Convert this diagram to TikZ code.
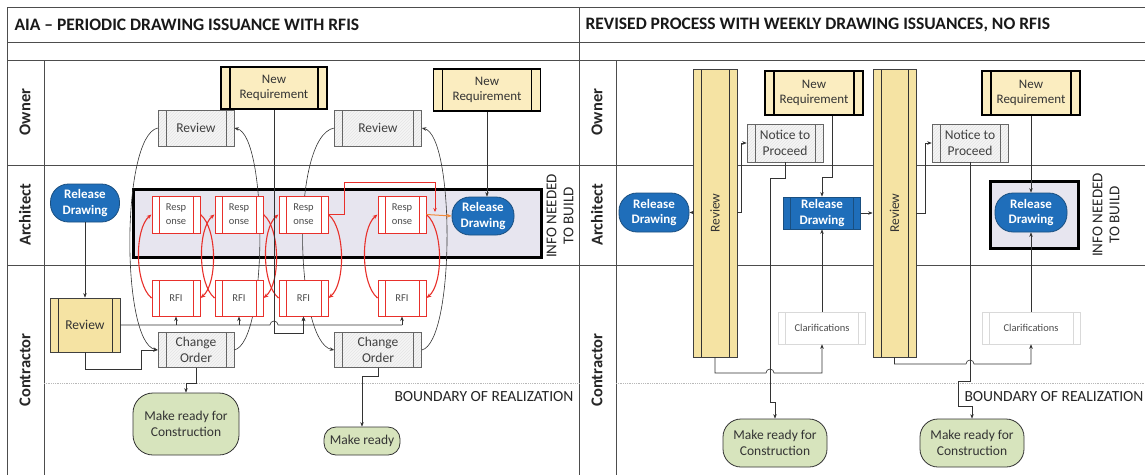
\documentclass[tikz,border=0pt]{standalone}
\usepackage{fontspec}
\setmainfont{Carlito}
\usetikzlibrary{arrows.meta,patterns,calc}
\definecolor{rdblue}{HTML}{1F6EBA}
\definecolor{rdborder}{HTML}{1A4F80}
\definecolor{nrfill}{HTML}{FBEDC0}
\definecolor{barfill}{HTML}{F5E3A3}
\definecolor{hatchfill}{HTML}{F5F5F5}
\definecolor{boxfill}{HTML}{E7E5EF}
\definecolor{greenfill}{HTML}{D7E4BD}
\definecolor{rfired}{HTML}{E8302B}
\definecolor{orangeline}{HTML}{F28A3A}
\definecolor{laneline}{HTML}{4D4D4D}
\newcommand{\myfs}[2]{\fontsize{#1}{#2}\selectfont}
\tikzset{
  inl/.style n args={3}{path picture={
     \draw[#2,line width=#3] ([xshift=#1]path picture bounding box.north west) -- ([xshift=#1]path picture bounding box.south west);
     \draw[#2,line width=#3] ([xshift=-#1]path picture bounding box.north east) -- ([xshift=-#1]path picture bounding box.south east);}},
  lane/.style={draw=laneline, line width=0.9pt},
  lanelabel/.style={rotate=90, font=\bfseries\myfs{16.5}{19}, text=black!85},
  nreq/.style={rectangle, draw=black, line width=1.6pt, fill=nrfill, inl={9pt}{black}{1.2pt}, font=\myfs{13}{15}, align=center, inner sep=0pt, text=black!80},
  hbox/.style={rectangle, draw=gray!80!black, line width=0.6pt, preaction={fill=hatchfill}, pattern=north east lines, pattern color=gray!20, inl={8pt}{gray!80!black}{0.5pt}, font=\myfs{13.5}{15.5}, align=center, inner sep=0pt, text=black!75},
  rbox/.style={rectangle, draw=rfired, line width=1pt, fill=white, inl={7pt}{rfired}{0.9pt}, font=\myfs{10.5}{14}, align=center, text=black!70, inner sep=0pt},
  ybox/.style={rectangle, draw=gray!50!black, line width=0.8pt, fill=barfill, inl={8pt}{gray!40!black}{0.8pt}, font=\myfs{13.5}{15}, text=black!80, inner sep=0pt},
  oval/.style={rectangle, rounded corners=18pt, draw=rdborder, line width=0.8pt, fill=rdblue, text=white, font=\bfseries\myfs{13}{15.5}, align=center, inner sep=0pt},
  blrect/.style={rectangle, draw=rdborder, line width=0.8pt, fill=rdblue, inl={7pt}{rdborder}{0.8pt}, text=white, font=\bfseries\myfs{13}{15.5}, align=center, inner sep=0pt},
  grn/.style={rectangle, draw=gray!40!black, line width=0.8pt, fill=greenfill, font=\myfs{13.5}{16}, align=center, text=black!80, inner sep=0pt},
  clar/.style={rectangle, draw=gray!30, line width=0.5pt, fill=white, inl={7pt}{gray!30}{0.5pt}, font=\myfs{10.5}{12}, text=black!70, inner sep=0pt},
  thickbox/.style={draw=black, line width=3pt, fill=boxfill},
  conn/.style={draw=black!80, line width=0.6pt, -{Stealth[length=4.5pt,width=3.5pt]}},
  plain/.style={draw=black!80, line width=0.6pt},
  redc/.style={draw=rfired, line width=1.1pt, -{Stealth[length=5pt,width=4pt]}},
  infotext/.style={rotate=90, font=\myfs{15}{17}, align=center, text=black!85},
  bndtext/.style={anchor=west, font=\myfs{15.5}{17}, text=black!85},
  titletext/.style={anchor=west, font=\bfseries\myfs{17.5}{20}, text=black!90},
}
\begin{document}
\begin{tikzpicture}[x=1pt,y=-1pt]
\useasboundingbox (0,0) rectangle (1145,475);
\fill[white] (0,0) rectangle (1145,475);

% ---------- frame and lanes ----------
\draw[lane] (7,7) -- (1145,7);
\draw[lane] (7,42) -- (1145,42);
\draw[lane] (7,60) -- (1145,60);
\draw[lane] (7,165) -- (1145,165);
\draw[lane] (7,265) -- (1145,265);
\draw[lane] (7,7) -- (7,475);
\draw[lane] (579,7) -- (579,475);
\draw[lane] (44,60) -- (44,475);
\draw[lane] (616,60) -- (616,475);
\draw[gray!55, densely dotted, line width=0.8pt] (44,383) -- (579,383);
\draw[gray!55, densely dotted, line width=0.8pt] (616,383) -- (1145,383);

\node[titletext] (t1) at (11,25) {AIA – PERIODIC DRAWING ISSUANCE WITH RFIS};
\node[titletext] (t2) at (582,25) {REVISED PROCESS WITH WEEKLY DRAWING ISSUANCES, NO RFIS};

\node[lanelabel] (lo1) at (25,112) {Owner};
\node[lanelabel] (la1) at (25,215) {Architect};
\node[lanelabel] (lc1) at (25,370) {Contractor};
\node[lanelabel] (lo2) at (597,112) {Owner};
\node[lanelabel] (la2) at (597,215) {Architect};
\node[lanelabel] (lc2) at (597,370) {Contractor};

% ---------- LEFT PANEL ----------
\filldraw[thickbox] (133,189) rectangle (541,257);

\path (274,88) node[nreq, minimum width=106pt, minimum height=42pt] (NR1) {New\\Requirement};
\path (487,90) node[nreq, minimum width=107pt, minimum height=42pt] (NR2) {New\\Requirement};
\path (196,128) node[hbox, minimum width=76pt, minimum height=36pt] (RV1) {Review};
\path (378,128) node[hbox, minimum width=87pt, minimum height=36pt] (RV2) {Review};
\path (196,350) node[hbox, minimum width=76pt, minimum height=35pt] (CO1) {Change\\Order};
\path (378,350) node[hbox, minimum width=87pt, minimum height=35pt] (CO2) {Change\\Order};

% black arcs (behind boxes)
\draw[conn] (RV1.west) .. controls (121,136) and (121,342) .. (CO1.west);
\draw[conn] (CO1.east) .. controls (268,342) and (268,136) .. (RV1.east);
\draw[conn] (RV2.west) .. controls (290,136) and (295,342) .. (CO2.west);
\draw[conn] (CO2.east) .. controls (455,342) and (455,136) .. (RV2.east);

% Response / RFI boxes
\path (176,214.5) node[rbox, minimum width=48pt, minimum height=37pt] (R1) {Resp\\onse};
\path (239,214.5) node[rbox, minimum width=48pt, minimum height=37pt] (R2) {Resp\\onse};
\path (303.5,214.5) node[rbox, minimum width=49pt, minimum height=37pt] (R3) {Resp\\onse};
\path (402,214.5) node[rbox, minimum width=48pt, minimum height=37pt] (R4) {Resp\\onse};
\path (176,298) node[rbox, minimum width=48pt, minimum height=36pt] (F1) {RFI};
\path (239,298) node[rbox, minimum width=48pt, minimum height=36pt] (F2) {RFI};
\path (303.5,298) node[rbox, minimum width=49pt, minimum height=36pt] (F3) {RFI};
\path (402,298) node[rbox, minimum width=48pt, minimum height=36pt] (F4) {RFI};

\path (85,203) node[oval, minimum width=69pt, minimum height=38pt] (RD1) {Release\\Drawing};
\path (483,216) node[oval, minimum width=62pt, minimum height=38pt] (RD2) {Release\\Drawing};
\node[infotext] (INFO1) at (560,216) {INFO NEEDED\\TO BUILD};

\path (85,325) node[ybox, minimum width=70pt, minimum height=54pt] (RVC) {Review};
\path (186,424) node[grn, minimum width=106pt, minimum height=62pt, rounded corners=20pt] (MR1) {Make ready for\\Construction};
\path (362,441) node[grn, minimum width=76pt, minimum height=28pt, rounded corners=12pt] (MR2) {Make ready};
\node[bndtext] (BND1) at (391,397) {BOUNDARY OF REALIZATION};

% red loops
\foreach \r/\f in {R1/F1,R2/F2,R3/F3,R4/F4}{
  \draw[redc] (\f.west) .. controls +(-17,-14) and +(-17,14) .. (\r.west);
  \draw[redc] (\r.east) .. controls +(17,14) and +(17,-14) .. (\f.east);
}
\draw[draw=rfired, line width=0.9pt, -{Stealth[length=4pt,width=3.5pt]}] (R3.east) -- (344,214.5) -- (344,182) -- (435,182) -- (435,212);
\draw[draw=orangeline, line width=1pt, -{Stealth[length=5pt,width=4pt]}] (R4.east) -- (RD2.west);

% black connectors left
\draw[conn] (RD1.south) -- (RVC.north);
\draw[plain] (RVC.east) -- ([xshift=-4pt]NR1.south |- RVC.east) arc[start angle=180, end angle=360, radius=4] -- (F4.south |- RVC.east);
\draw[conn] (F1.south |- RVC.east) -- (F1.south);
\draw[conn] (F2.south |- RVC.east) -- (F2.south);
\draw[conn] (F3.south |- RVC.east) -- (F3.south);
\draw[conn] (F4.south |- RVC.east) -- (F4.south);
\draw[conn] (NR1.south) -- (274,333) -- (303.5,333) -- (F3.south);
\draw[conn] (NR2.south) -- (NR2.south |- RD2.north);
\draw[conn] (RVC.south) -- (85,369) -- (141,369) -- (141,350) -- (CO1.west);
\draw[conn] (CO1.south) -- (196,383) -- (186,383) -- (MR1.north);
\draw[conn] (CO2.south) -- (378,376) -- (362,376) -- (MR2.north);

% ---------- RIGHT PANEL ----------
\filldraw[thickbox] (990,181) rectangle (1078,248);

\path (715,213) node[ybox, minimum width=44pt, minimum height=288pt, label={[rotate=90, font=\myfs{13.5}{15}, text=black!80]center:Review}] (BAR1) {};
\path (894.5,213) node[ybox, minimum width=43pt, minimum height=288pt, label={[rotate=90, font=\myfs{13.5}{15}, text=black!80]center:Review}] (BAR2) {};
\path (814,93) node[nreq, minimum width=98pt, minimum height=44pt] (NR3) {New\\Requirement};
\path (1031,93) node[nreq, minimum width=98pt, minimum height=44pt] (NR4) {New\\Requirement};
\path (785,143) node[hbox, minimum width=76pt, minimum height=38pt] (NTP1) {Notice to\\Proceed};
\path (970,143) node[hbox, minimum width=76pt, minimum height=38pt] (NTP2) {Notice to\\Proceed};
\path (654,212.5) node[oval, minimum width=70pt, minimum height=39pt] (RD3) {Release\\Drawing};
\path (822,213) node[blrect, minimum width=77pt, minimum height=32pt] (RD4) {Release\\Drawing};
\path (1031,212.5) node[oval, minimum width=72pt, minimum height=39pt] (RD5) {Release\\Drawing};
\node[infotext] (INFO2) at (1106,215) {INFO NEEDED\\TO BUILD};
\path (822,328) node[clar, minimum width=87pt, minimum height=32pt] (CL1) {Clarifications};
\path (1031,328) node[clar, minimum width=98pt, minimum height=32pt] (CL2) {Clarifications};
\path (775,443) node[grn, minimum width=104pt, minimum height=48pt, rounded corners=18pt] (MR3) {Make ready for\\Construction};
\path (972,443) node[grn, minimum width=104pt, minimum height=48pt, rounded corners=18pt] (MR4) {Make ready for\\Construction};
\node[bndtext] (BND2) at (961,397) {BOUNDARY OF REALIZATION};

\draw[conn] (BAR1.west |- RD3.east) -- (RD3.east);
\draw[conn] (BAR1.east |- RD3.east) -- (741,212.5) -- (741,143) -- (NTP1.west);
\draw[conn] (NTP1.south) -- (785,178) -- (770,178) -- (770,402) -- (775,402) -- (MR3.north);
\draw[conn] ([xshift=18pt]NR3.south) -- (832,177) -- (822,177) -- (RD4.north);
\draw[conn] (CL1.north) -- (RD4.south);
\draw[conn] (RD4.east) -- (BAR2.west |- RD4.east);
\draw[conn] (BAR1.south) -- (715,373) -- (766,373) arc[start angle=180, end angle=360, radius=4] -- (CL1.south |- 0,373) -- (CL1.south);
\draw[conn] (BAR2.east |- RD4.east) -- (925,213) -- (925,143) -- (NTP2.west);
\draw[conn] (NTP2.south) -- (970,381) -- (958,381) -- (958,406) -- (972,406) -- (MR4.north);
\draw[conn] (BAR2.south) -- (894.5,364) -- (966,364) arc[start angle=180, end angle=360, radius=4] -- (CL2.south |- 0,364) -- (CL2.south);
\draw[conn] (NR4.south) -- (RD5.north);
\draw[conn] (CL2.north) -- (RD5.south);
\end{tikzpicture}
\end{document}
